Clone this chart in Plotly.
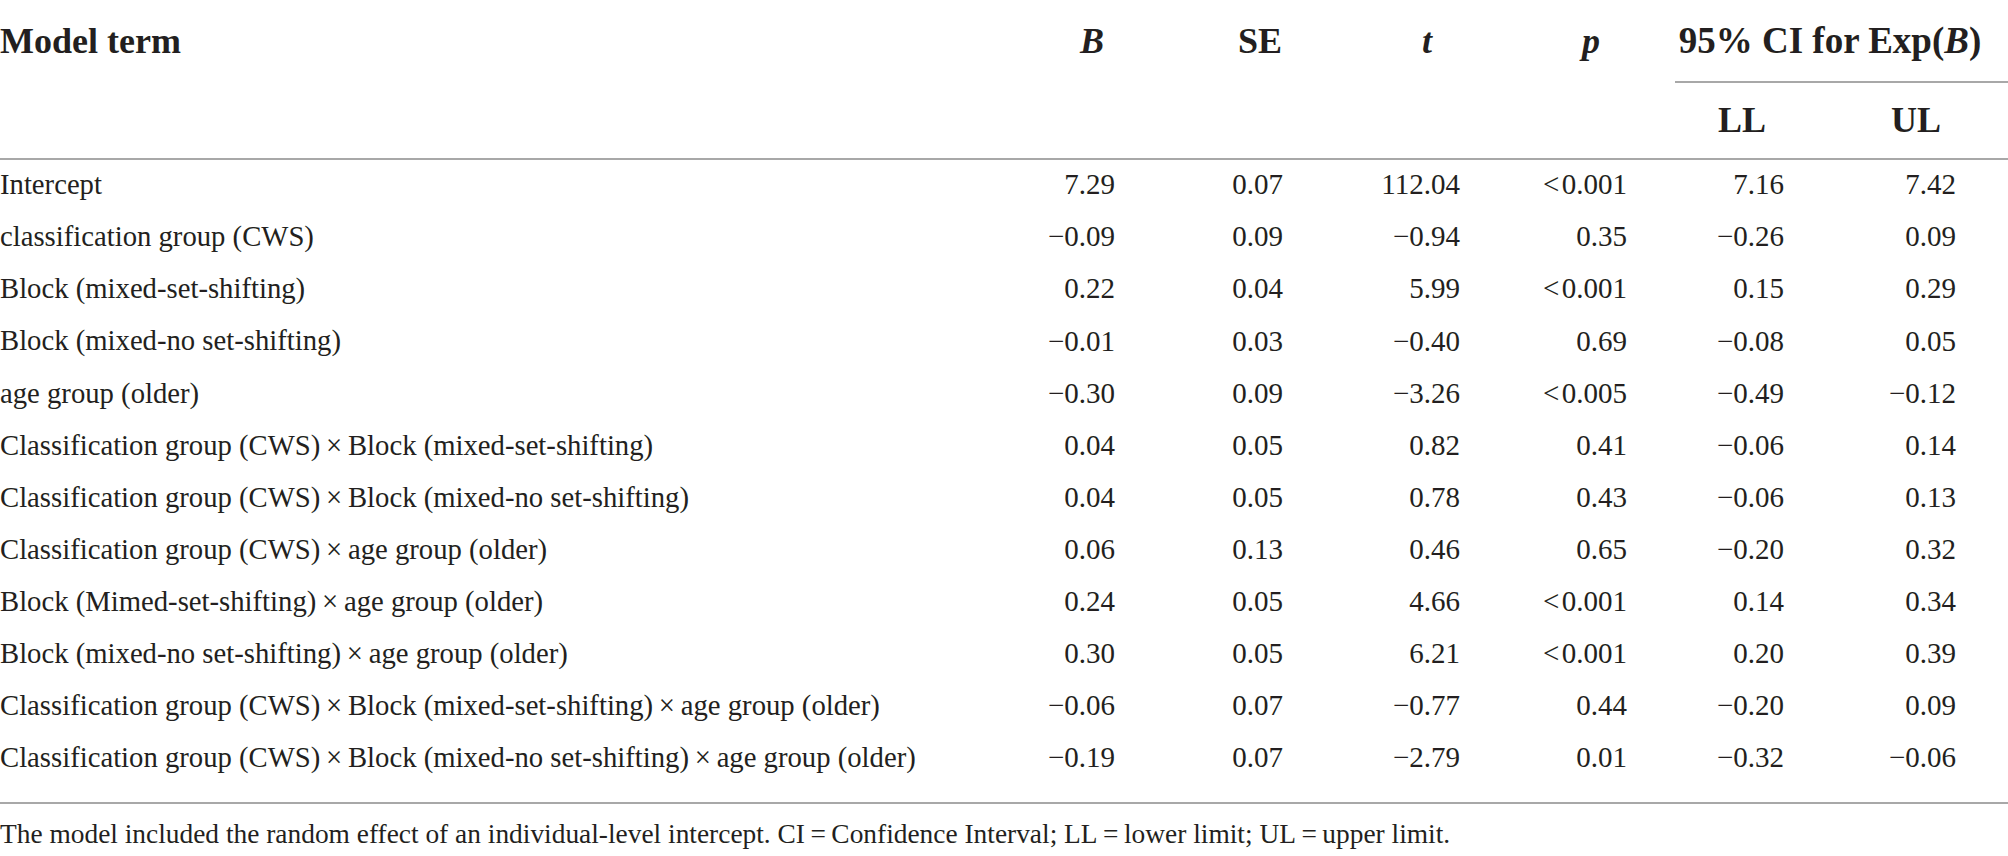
import plotly.graph_objects as go

# table content
terms = [
    "Intercept",
    "classification group (CWS)",
    "Block (mixed-set-shifting)",
    "Block (mixed-no set-shifting)",
    "age group (older)",
    "Classification group (CWS)\u2009×\u2009Block (mixed-set-shifting)",
    "Classification group (CWS)\u2009×\u2009Block (mixed-no set-shifting)",
    "Classification group (CWS)\u2009×\u2009age group (older)",
    "Block (Mimed-set-shifting)\u2009×\u2009age group (older)",
    "Block (mixed-no set-shifting)\u2009×\u2009age group (older)",
    "Classification group (CWS)\u2009×\u2009Block (mixed-set-shifting)\u2009×\u2009age group (older)",
    "Classification group (CWS)\u2009×\u2009Block (mixed-no set-shifting)\u2009×\u2009age group (older)",
]
B = [7.29, -0.09, 0.22, -0.01, -0.30, 0.04, 0.04, 0.06, 0.24, 0.30, -0.06, -0.19]
SE = [0.07, 0.09, 0.04, 0.03, 0.09, 0.05, 0.05, 0.13, 0.05, 0.05, 0.07, 0.07]
t = [112.04, -0.94, 5.99, -0.40, -3.26, 0.82, 0.78, 0.46, 4.66, 6.21, -0.77, -2.79]
p = ["<0.001", "0.35", "<0.001", "0.69", "<0.005", "0.41", "0.43", "0.65",
     "<0.001", "<0.001", "0.44", "0.01"]
LL = [7.16, -0.26, 0.15, -0.08, -0.49, -0.06, -0.06, -0.20, 0.14, 0.20, -0.20, -0.32]
UL = [7.42, 0.09, 0.29, 0.05, -0.12, 0.14, 0.13, 0.32, 0.34, 0.39, 0.09, -0.06]

headers = ["<i>B</i>", "SE", "<i>t</i>", "<i>p</i>", "LL", "UL"]
note = ("The model included the random effect of an individual-level intercept. "
        "CI\u2009=\u2009Confidence Interval; LL\u2009=\u2009lower limit; UL\u2009=\u2009upper limit.")

W, H = 2008, 856
FONT = "Liberation Serif"
INK = "#231f20"
RULE = "#a8a8a8"

row0, row_step = 187, 52.1
col_right = [1115, 1283, 1460, 1627, 1784, 1956]
head_x = [1092, 1260, 1427, 1591, 1742, 1916]


def fmt(v):
    s = f"{abs(v):.2f}"
    return ("\u2212" + s) if v < 0 else s


def fmt_p(s):
    return s.replace("<", "&lt;\u200a")


rows_y = [row0 + i * row_step for i in range(len(terms))]

fig = go.Figure()
fig.add_trace(go.Scatter(x=[0] * len(terms), y=rows_y, text=terms, mode="text",
                         textposition="middle right", cliponaxis=False,
                         textfont=dict(family=FONT, size=28.7, color=INK),
                         hoverinfo="skip"))

columns = [[fmt(v) for v in B], [fmt(v) for v in SE], [fmt(v) for v in t],
           [fmt_p(v) for v in p], [fmt(v) for v in LL], [fmt(v) for v in UL]]
for xr, col in zip(col_right, columns):
    fig.add_trace(go.Scatter(x=[xr] * len(col), y=rows_y, text=col, mode="text",
                             textposition="middle left", cliponaxis=False,
                             textfont=dict(family=FONT, size=29, color=INK),
                             hoverinfo="skip"))

# headers
head_y = [44, 44, 44, 44, 123, 123]
fig.add_trace(go.Scatter(x=head_x, y=head_y, text=["<b>%s</b>" % h for h in headers],
                         mode="text", textposition="middle center", cliponaxis=False,
                         textfont=dict(family=FONT, size=36, color=INK),
                         hoverinfo="skip"))
fig.add_trace(go.Scatter(x=[0, 1830], y=[44, 44],
                         text=["<b>Model term</b>", "<b>95% CI for Exp(<i>B</i>)</b>"],
                         mode="text", textposition=["middle right", "middle center"],
                         cliponaxis=False,
                         textfont=dict(family=FONT, size=[36, 37], color=INK),
                         hoverinfo="skip"))

fig.add_trace(go.Scatter(x=[0], y=[836], text=[note], mode="text",
                         textposition="middle right", cliponaxis=False,
                         textfont=dict(family=FONT, size=27.4, color=INK),
                         hoverinfo="skip"))

# rules
for x0, x1, y in [(0, W, 159), (1675, W, 82), (0, W, 803)]:
    fig.add_shape(type="line", xref="x", yref="y", x0=x0, x1=x1, y0=y, y1=y,
                  line=dict(color=RULE, width=2))

fig.update_layout(
    width=W, height=H, showlegend=False,
    margin=dict(l=0, r=0, t=0, b=0),
    paper_bgcolor="white", plot_bgcolor="white",
    xaxis=dict(range=[0, W], visible=False, fixedrange=True),
    yaxis=dict(range=[H, 0], visible=False, fixedrange=True),
)

# page body margin would shift the figure, drop it
fig.write_html("out.html", config={"displayModeBar": False},
               post_script="document.body.style.margin='0';")
